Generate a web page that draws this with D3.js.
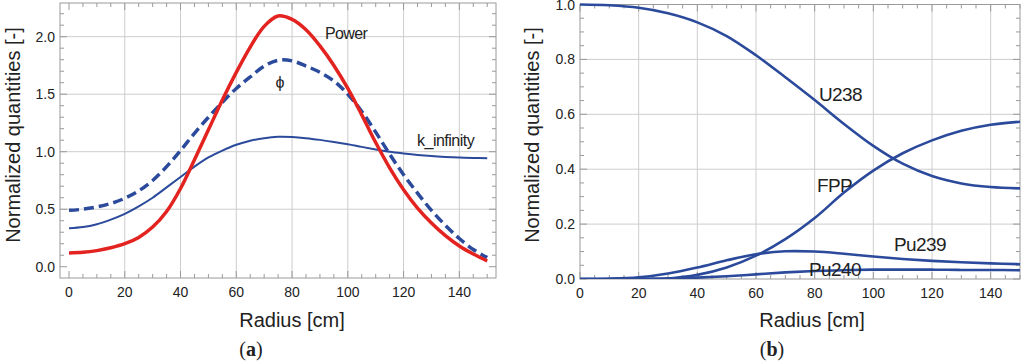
<!DOCTYPE html>
<html><head><meta charset="utf-8">
<script src="https://cdn.jsdelivr.net/npm/d3@7"></script>
<style>
body{margin:0;background:#fff;}
svg{display:block;}
text{font-family:"Liberation Sans",Arial,sans-serif;fill:#222;}
</style></head>
<body>
<svg id="chart" width="1024" height="362"></svg>
<script>
// ---------- Data ----------
// Panel (a): radius every 5 cm
const radiusA = [0,5,10,15,20,25,30,35,40,45,50,55,60,65,70,75,80,85,90,95,100,105,110,115,120,125,130,135,140,145,150];
const power   = [0.12,0.125,0.14,0.165,0.20,0.255,0.345,0.48,0.68,0.93,1.19,1.45,1.69,1.91,2.09,2.18,2.15,2.06,1.92,1.75,1.55,1.32,1.08,0.86,0.67,0.51,0.38,0.27,0.18,0.11,0.05];
const phi     = [0.49,0.50,0.52,0.55,0.595,0.66,0.75,0.87,1.01,1.16,1.30,1.43,1.55,1.65,1.745,1.795,1.79,1.745,1.69,1.615,1.50,1.35,1.17,0.98,0.80,0.64,0.49,0.36,0.245,0.15,0.08];
const kInf    = [0.335,0.345,0.37,0.41,0.46,0.525,0.60,0.69,0.78,0.87,0.95,1.01,1.06,1.095,1.118,1.13,1.128,1.118,1.103,1.085,1.065,1.042,1.02,1.0,0.985,0.972,0.962,0.955,0.95,0.946,0.943];
// Panel (b): radius every 10 cm
const radiusB = [0,10,20,30,40,50,60,70,80,90,100,110,120,130,140,150];
const u238    = [1.0,0.997,0.988,0.968,0.935,0.885,0.815,0.735,0.652,0.565,0.485,0.42,0.375,0.348,0.335,0.33];
const fpp     = [0,0,0,0.002,0.015,0.042,0.085,0.145,0.222,0.315,0.395,0.458,0.505,0.54,0.562,0.573];
const pu239   = [0,0.001,0.006,0.02,0.042,0.068,0.09,0.101,0.1,0.092,0.082,0.073,0.066,0.061,0.057,0.054];
const pu240   = [0,0,0.0005,0.002,0.005,0.01,0.017,0.024,0.029,0.032,0.034,0.034,0.034,0.033,0.033,0.032];
// Ticks
const xTicks = [0,20,40,60,80,100,120,140];
const yTicksA = [0.0,0.5,1.0,1.5,2.0];
const yTicksB = [0.0,0.2,0.4,0.6,0.8,1.0];
const yLabel = "Normalized quantities [-]";
const xLabel = "Radius [cm]";

const svg = d3.select("#chart");
const BLUE = "#2b4a9b", RED = "#e2231f", GRID = "#cdcdcd", FRAME = "#9a9a9a";

function panel(cfg){
  const g = svg.append("g");
  const x = d3.scaleLinear().domain(cfg.xDom).range([cfg.left, cfg.right]);
  const y = d3.scaleLinear().domain(cfg.yDom).range([cfg.bottom, cfg.top]);
  g.selectAll(".gx").data(cfg.xGrid).join("line")
    .attr("x1",d=>x(d)).attr("x2",d=>x(d)).attr("y1",cfg.top).attr("y2",cfg.bottom)
    .attr("stroke",GRID).attr("stroke-width",1);
  g.selectAll(".gy").data(cfg.yGrid).join("line")
    .attr("y1",d=>y(d)).attr("y2",d=>y(d)).attr("x1",cfg.left).attr("x2",cfg.right)
    .attr("stroke",GRID).attr("stroke-width",1);
  g.append("rect").attr("x",cfg.left).attr("y",cfg.top)
    .attr("width",cfg.right-cfg.left).attr("height",cfg.bottom-cfg.top)
    .attr("fill","none").attr("stroke",FRAME).attr("stroke-width",1);
  const xMinor = d3.range(0,150.001,cfg.xMinorStep);
  const yMinor = d3.range(cfg.yTicks[0], cfg.yTicks[cfg.yTicks.length-1]+cfg.yMinorStep*0.5+(cfg.yExtra||0), cfg.yMinorStep).filter(v=>y(v)>=cfg.top-0.5);
  const isMajX = v => xTicks.some(t=>Math.abs(t-v)<1e-6);
  const isMajY = v => cfg.yTicks.some(t=>Math.abs(t-v)<1e-6);
  xMinor.forEach(v=>{
    const L = isMajX(v)?7:4;
    g.append("line").attr("x1",x(v)).attr("x2",x(v)).attr("y1",cfg.bottom).attr("y2",cfg.bottom-L).attr("stroke",FRAME);
    g.append("line").attr("x1",x(v)).attr("x2",x(v)).attr("y1",cfg.top).attr("y2",cfg.top+L).attr("stroke",FRAME);
  });
  yMinor.forEach(v=>{
    const L = isMajY(v)?7:4;
    g.append("line").attr("y1",y(v)).attr("y2",y(v)).attr("x1",cfg.left).attr("x2",cfg.left+L).attr("stroke",FRAME);
    g.append("line").attr("y1",y(v)).attr("y2",y(v)).attr("x1",cfg.right).attr("x2",cfg.right-L).attr("stroke",FRAME);
  });
  g.selectAll(".xl").data(xTicks).join("text")
    .attr("x",d=>x(d)).attr("y",cfg.xLabelY).attr("text-anchor","middle")
    .attr("dominant-baseline","central").attr("font-size",14).attr("fill","#333").text(d=>d);
  g.selectAll(".yl").data(cfg.yTicks).join("text")
    .attr("x",cfg.left-5).attr("y",d=>y(d)).attr("text-anchor","end")
    .attr("dominant-baseline","central").attr("font-size",14).attr("fill","#333").text(d=>d3.format(".1f")(d));
  g.append("text").attr("transform",`translate(${cfg.yTitleX},${cfg.yTitleY}) rotate(-90)`)
    .attr("text-anchor","middle").attr("dominant-baseline","central").attr("font-size",20).text(yLabel);
  g.append("text").attr("x",cfg.xTitleX).attr("y",320).attr("text-anchor","middle")
    .attr("dominant-baseline","central").attr("font-size",20).text(xLabel);
  const cap = g.append("text").attr("x",cfg.capX).attr("y",349).attr("text-anchor","middle")
    .attr("dominant-baseline","central").attr("font-size",20).style("font-family","'Liberation Serif',serif");
  cap.append("tspan").text("(");
  cap.append("tspan").attr("font-weight","bold").text(cfg.cap);
  cap.append("tspan").text(")");
  const cid = "clip"+cfg.cap;
  svg.append("clipPath").attr("id",cid).append("rect")
    .attr("x",cfg.left).attr("y",cfg.top-3).attr("width",cfg.right-cfg.left).attr("height",cfg.bottom-cfg.top+3);
  const lines = g.append("g").attr("clip-path",`url(#${cid})`);
  return {g,x,y,lines};
}

const curve = d3.curveCatmullRom.alpha(0.5);

// ----- Panel (a) -----
const A = panel({left:60,right:496,top:3,bottom:278,xDom:[-3.23,153.15],yDom:[-0.098,2.293],
  xGrid:[20,40,60,80,100,120,140], yGrid:[0.5,1.0,1.5,2.0], yTicks:yTicksA, xMinorStep:5, yMinorStep:0.1, yExtra:0.3,
  xLabelY:292, yTitleX:13, yTitleY:135, xTitleX:292, capX:251, cap:"a"});
function drawA(vals, color, w, dash){
  const line = d3.line().x((d,i)=>A.x(radiusA[i])).y(d=>A.y(d)).curve(curve);
  A.lines.append("path").attr("d",line(vals)).attr("fill","none").attr("stroke",color)
    .attr("stroke-width",w).attr("stroke-dasharray",dash||null);
}
drawA(kInf, BLUE, 2);
drawA(phi, BLUE, 3.5, "10,5");
drawA(power, RED, 3.5);
A.g.append("text").attr("x",325).attr("y",33).attr("dominant-baseline","central").attr("font-size",16).attr("letter-spacing",-0.6).text("Power");
A.g.append("text").attr("x",280).attr("y",82).attr("text-anchor","middle").attr("dominant-baseline","central").attr("font-size",16).text("ϕ");
A.g.append("text").attr("x",417).attr("y",140).attr("dominant-baseline","central").attr("font-size",16).attr("letter-spacing",-0.5).text("k_infinity");

// ----- Panel (b) -----
const B = panel({left:580,right:1020,top:4.5,bottom:279,xDom:[0,150],yDom:[0,1],
  xGrid:[20,40,60,80,100,120,140], yGrid:[0.2,0.4,0.6,0.8], yTicks:yTicksB, xMinorStep:5, yMinorStep:0.05,
  xLabelY:293, yTitleX:532, yTitleY:135, xTitleX:812, capX:772, cap:"b"});
function drawB(vals){
  const line = d3.line().x((d,i)=>B.x(radiusB[i])).y(d=>B.y(d)).curve(curve);
  B.lines.append("path").attr("d",line(vals)).attr("fill","none").attr("stroke",BLUE).attr("stroke-width",2.6);
}
[u238,fpp,pu239,pu240].forEach(drawB);
const lab = (t,xx,yy)=>B.g.append("text").attr("x",xx).attr("y",yy).attr("dominant-baseline","central").attr("font-size",19).attr("letter-spacing",-0.6).text(t);
lab("U238",819,94);
lab("FPP",817,185);
lab("Pu239",894,244);
lab("Pu240",809,269);
</script>
</body></html>
